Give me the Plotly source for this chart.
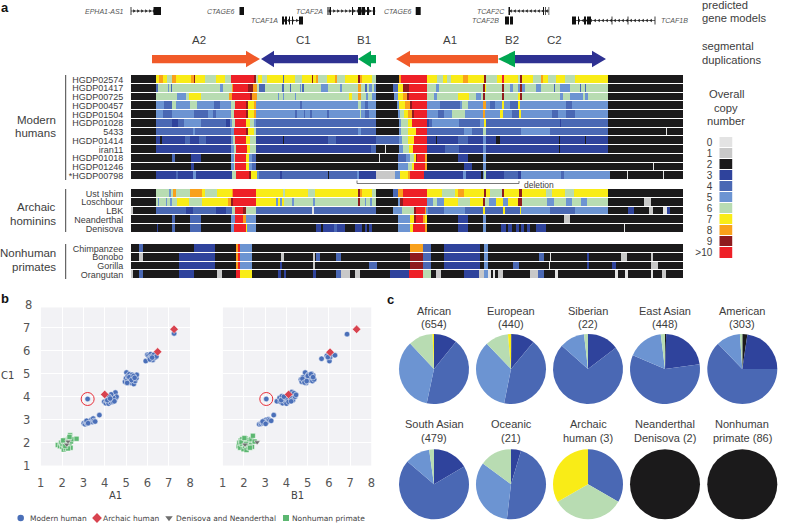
import plotly.graph_objects as go

W, H = 800, 523
SANS = "Liberation Sans"
DV = "DejaVu Sans"
TXT = "#3d3d3d"

# ---------- panel a data: (segment end, copy number) ----------
HGDP02574 = [(156,2),(159,7),(163,8),(167,7),(172,6),(176,8),(191,7),(194,8),(195,9),(205,7),(216,6),(225,7),(231,6),(254,10),(256,9),(258,6),(262,7),(267,6),(283,7),(284,4),(295,7),(302,6),(312,7),(313,9),(316,7),(318,8),(327,6),(335,7),(337,8),(345,6),(358,7),(360,9),(362,8),(372,7),(376,6),(399,2),(401,8),(427,10),(437,7),(443,6),(447,7),(451,6),(463,7),(468,8),(484,7),(486,9),(497,6),(502,7),(504,10),(518,7),(520,6),(522,9),(533,7),(541,6),(543,8),(548,7),(556,6),(565,7),(575,6),(608,7),(683,2)]
HGDP01417 = [(156,2),(158,4),(168,6),(169,5),(171,6),(172,4),(220,6),(223,5),(232,6),(233,8),(248,10),(253,9),(257,8),(259,6),(265,4),(282,6),(284,4),(290,6),(291,4),(300,6),(301,5),(302,6),(304,4),(321,6),(328,5),(340,6),(342,5),(358,6),(361,8),(365,6),(367,4),(369,6),(372,5),(374,6),(376,5),(393,2),(398,4),(403,7),(409,9),(427,10),(436,6),(439,5),(483,6),(485,9),(486,7),(502,6),(504,9),(510,6),(513,5),(518,6),(520,5),(522,9),(525,5),(536,6),(541,5),(554,6),(555,4),(560,6),(570,5),(580,6),(581,4),(585,6),(586,4),(608,6),(683,2)]
HGDP00725 = [(156,2),(177,6),(186,5),(189,6),(201,7),(229,6),(232,8),(250,10),(252,9),(257,8),(262,6),(278,6),(279,5),(283,6),(284,5),(295,6),(296,5),(349,6),(352,7),(358,6),(361,8),(366,6),(368,5),(372,6),(376,5),(394,2),(398,5),(403,7),(407,8),(409,9),(427,10),(434,6),(437,5),(458,6),(469,7),(476,6),(481,5),(483,6),(485,9),(502,6),(504,9),(518,6),(520,7),(522,9),(530,6),(560,6),(563,5),(570,6),(583,5),(585,6),(588,5),(608,6),(683,2)]
HGDP00457 = [(156,2),(164,5),(172,4),(176,6),(190,5),(197,6),(214,5),(220,4),(231,5),(235,6),(246,10),(248,9),(254,7),(256,8),(300,5),(302,4),(358,5),(361,6),(365,5),(368,4),(372,5),(376,5),(397,2),(399,5),(405,7),(410,8),(412,9),(427,10),(440,5),(460,4),(462,5),(468,6),(483,5),(486,8),(490,5),(495,4),(502,5),(504,7),(510,5),(518,4),(520,7),(566,5),(572,4),(608,5),(683,2)]
HGDP01504 = [(156,2),(163,5),(172,4),(176,5),(194,5),(208,4),(213,5),(216,4),(231,5),(234,6),(246,10),(248,9),(254,7),(256,8),(295,5),(297,4),(304,5),(305,4),(310,5),(312,4),(327,5),(329,4),(360,5),(361,6),(365,5),(369,4),(376,5),(398,2),(400,5),(404,6),(408,7),(412,8),(414,9),(427,10),(438,5),(444,4),(452,5),(465,6),(483,5),(485,8),(500,5),(503,7),(512,5),(519,4),(521,7),(552,5),(558,4),(566,5),(575,4),(608,5),(683,2)]
HGDP01028 = [(156,2),(172,4),(178,3),(184,4),(201,5),(226,4),(230,3),(232,5),(235,6),(246,10),(250,7),(254,6),(256,5),(360,4),(376,4),(399,2),(401,5),(408,6),(412,7),(414,10),(427,10),(429,3),(432,4),(459,5),(480,4),(484,5),(486,7),(500,4),(560,4),(561,3),(608,4),(683,2)]
S5433 = [(156,2),(193,4),(195,5),(231,4),(234,5),(246,10),(248,9),(254,7),(256,6),(358,4),(361,5),(376,4),(399,2),(401,5),(408,6),(416,7),(427,10),(464,4),(472,5),(483,4),(486,6),(521,4),(550,5),(608,4),(666,2),(667,0),(683,2)]
HGDP01414 = [(156,2),(160,3),(162,2),(185,3),(190,4),(199,3),(206,4),(231,3),(233,5),(235,6),(246,10),(250,7),(256,6),(283,3),(284,2),(328,3),(336,4),(376,3),(399,4),(402,5),(408,6),(414,7),(427,10),(436,3),(437,2),(458,3),(468,4),(483,3),(486,5),(496,3),(500,2),(559,3),(560,2),(585,3),(586,2),(608,3),(683,2)]
iran11 = [(156,2),(231,3),(234,5),(236,6),(247,10),(250,7),(256,6),(371,3),(376,4),(385,2),(386,0),(399,2),(403,5),(409,6),(413,7),(427,10),(445,3),(459,4),(483,3),(486,5),(559,3),(560,2),(608,3),(683,2)]
HGDP01018 = [(172,2),(175,4),(176,2),(191,2),(201,3),(231,2),(234,5),(235,6),(246,10),(249,7),(252,5),(256,4),(379,2),(380,0),(398,2),(406,4),(410,5),(414,6),(416,7),(417,9),(425,10),(427,8),(458,2),(468,3),(483,2),(486,5),(683,2)]
HGDP01246 = [(172,2),(175,2),(191,2),(194,3),(231,2),(234,5),(235,6),(246,10),(249,7),(252,5),(256,4),(398,2),(408,5),(412,6),(414,7),(425,10),(427,8),(464,2),(472,3),(483,2),(486,5),(653,2),(654,0),(683,2)]
HGDP00798 = [(156,2),(176,3),(178,4),(193,3),(196,5),(232,3),(236,6),(249,10),(251,9),(257,7),(259,5),(280,4),(282,3),(286,4),(328,4),(329,2),(357,4),(359,5),(376,3),(395,1),(400,5),(408,7),(410,8),(424,10),(463,3),(466,5),(481,3),(483,2),(484,5),(486,6),(504,3),(518,4),(521,3),(561,5),(564,4),(610,5),(627,2),(628,0),(663,2),(664,0),(683,2)]

UstIshim = [(156,2),(169,6),(171,5),(173,6),(176,8),(190,6),(202,8),(205,7),(217,6),(232,7),(233,8),(256,10),(283,7),(285,6),(308,7),(315,6),(358,7),(360,9),(362,8),(372,7),(376,6),(393,2),(398,4),(403,8),(427,10),(442,7),(455,6),(458,7),(464,8),(484,7),(486,9),(490,7),(502,6),(504,9),(519,7),(522,9),(546,7),(552,6),(565,7),(574,6),(608,7),(683,2)]
Loschbour = [(156,2),(158,6),(159,5),(166,6),(167,5),(170,6),(172,5),(177,6),(189,7),(202,6),(228,7),(231,8),(233,9),(256,10),(276,7),(278,5),(280,7),(282,5),(284,7),(292,6),(294,5),(313,6),(315,5),(358,6),(360,9),(365,6),(366,5),(370,6),(372,5),(376,6),(398,2),(400,5),(403,9),(427,10),(433,5),(437,6),(444,5),(458,7),(470,6),(483,7),(485,9),(489,6),(496,5),(503,7),(508,5),(518,7),(522,9),(547,6),(554,5),(566,6),(572,5),(581,6),(587,5),(608,6),(644,2),(651,1),(683,2)]
LBK = [(133,1),(156,2),(186,4),(193,3),(216,4),(226,3),(232,4),(235,6),(243,10),(246,9),(256,6),(306,4),(312,4),(314,0),(376,4),(393,2),(402,5),(414,6),(416,9),(425,10),(426,8),(428,5),(444,4),(465,5),(483,4),(485,7),(503,4),(505,7),(520,4),(521,7),(550,5),(575,4),(608,5),(628,2),(634,3),(649,2),(653,1),(663,2),(667,0),(670,3),(683,2)]
Neanderthal = [(172,2),(175,4),(190,2),(201,4),(231,2),(235,5),(243,10),(246,8),(256,5),(398,2),(410,5),(414,7),(416,9),(423,10),(425,8),(427,7),(458,2),(468,3),(483,2),(486,5),(564,2),(570,1),(683,2)]
Denisova = [(157,2),(158,3),(172,2),(175,4),(190,2),(201,4),(231,2),(234,5),(246,10),(247,7),(256,5),(316,2),(321,3),(323,2),(334,3),(337,4),(345,3),(355,2),(362,3),(365,2),(367,3),(369,2),(372,3),(376,2),(398,2),(410,5),(413,7),(425,10),(427,8),(458,2),(468,3),(483,2),(486,5),(501,2),(506,3),(508,2),(512,3),(516,2),(519,3),(521,2),(524,3),(527,2),(530,3),(536,2),(546,3),(624,2),(625,0),(683,2)]

Chimpanzee = [(139,2),(143,4),(194,2),(215,3),(236,2),(238,8),(240,10),(252,5),(410,2),(423,8),(431,4),(444,2),(480,3),(484,2),(488,5),(683,2)]
Bonobo = [(139,2),(143,1),(179,2),(215,3),(236,2),(238,8),(240,10),(252,5),(281,2),(284,1),(313,2),(315,1),(316,2),(320,4),(336,2),(341,4),(373,2),(410,2),(423,9),(431,4),(444,2),(480,3),(484,2),(488,5),(539,2),(544,4),(550,2),(551,0),(587,2),(589,3),(621,2),(627,1),(651,2),(653,1),(683,2)]
Gorilla = [(179,2),(215,3),(236,2),(238,8),(240,10),(252,5),(280,2),(282,3),(313,2),(315,1),(369,2),(377,4),(410,2),(423,9),(431,4),(444,2),(480,3),(484,2),(488,5),(513,2),(519,4),(549,2),(550,0),(587,2),(589,3),(612,2),(616,3),(625,2),(651,2),(658,1),(683,2)]
Orangutan = [(133,1),(139,2),(143,4),(179,2),(194,3),(217,2),(222,1),(236,2),(240,10),(252,7),(278,2),(281,3),(284,2),(286,3),(313,2),(316,3),(336,2),(341,4),(350,1),(355,2),(360,1),(390,2),(409,3),(423,10),(431,6),(436,2),(441,1),(464,2),(479,3),(484,1),(488,5),(491,0),(493,2),(495,0),(498,2),(503,1),(530,2),(538,1),(544,4),(555,2),(558,0),(615,2),(618,0),(625,2),(628,0),(651,2),(653,0),(662,2),(666,1),(683,2)]

modern_names = ["HGDP02574","HGDP01417","HGDP00725","HGDP00457","HGDP01504","HGDP01028","5433","HGDP01414","iran11","HGDP01018","HGDP01246","*HGDP00798"]
modern_rows = [HGDP02574,HGDP01417,HGDP00725,HGDP00457,HGDP01504,HGDP01028,S5433,HGDP01414,iran11,HGDP01018,HGDP01246,HGDP00798]
archaic_names = ["Ust Ishim","Loschbour","LBK","Neanderthal","Denisova"]
archaic_rows = [UstIshim,Loschbour,LBK,Neanderthal,Denisova]
primate_names = ["Chimpanzee","Bonobo","Gorilla","Orangutan"]
primate_rows = [Chimpanzee,Bonobo,Gorilla,Orangutan]

cn_colors = ["#e3e3e3","#c8c8c8","#1b1a1b","#2f439c","#4a68b4","#6c94d2","#b8dcb2","#f9ec17","#f9a11b","#8f1b1e","#ee2027"]
cn_labels = ["0","1","2","3","4","5","6","7","8","9",">10"]
cn_values = [0,1,2,3,4,5,6,7,8,9,10]
GENOME_START, GENOME_END = 131, 683

# segmental duplications: name, tail, tip, head base, colour
segdups = [("A2",152,260,246,"#f15a29"),("C1",358,261,274,"#2e3192"),("B1",376,358,371,"#00a651"),
           ("A1",498,396,410,"#f15a29"),("B2",515,498,515,"#00a651"),("C2",515,606,592,"#2e3192")]
segdup_label_x = {"A2":199,"C1":303,"B1":364,"A1":450,"B2":512,"C2":554}

# gene models: name, track y, line start, line end, direction, exons, label x, label anchor
genes = [
 ("EPHA1-AS1",11,131,161,1,[(130.6,131.4),(153.5,161)],124,"right"),
 ("CTAGE6",11,239.5,244,0,[(239.5,244)],235,"right"),
 ("TCAF1A",20.5,282,303,1,[(282,284),(285,287),(289,290),(292,293),(299,303)],278,"right"),
 ("TCAF2A",11,327.5,375,1,[(327.5,328.5),(329.5,331),(352,353),(358,361),(361.5,365),(367,369),(373,375)],323,"right"),
 ("CTAGE6",11,415.7,420.7,0,[(415.7,420.7)],411.6,"right"),
 ("TCAF2C",11,508.5,549,-1,[(508.5,510),(543,544),(545,545.7),(548.6,549.2)],504.7,"right"),
 ("TCAF2B",20.5,505,513,0,[(505,509),(510,513)],499.3,"right"),
 ("TCAF1B",20.5,572,655,-1,[(572,576),(578,579),(584,586),(587,591),(611.6,612.4),(627.6,628.4),(654.6,655.4)],661,"left"),
]

# ---------- panel b data ----------
a1_modern_x = [3.02,3.08,3.12,3.18,3.25,3.3,3.38,3.42,3.46,3.5,3.55,3.15,3.22,3.75,3.2,
 3.98,4.05,4.1,4.15,4.18,4.22,4.28,4.32,4.36,4.38,4.42,4.46,4.5,4.52,4.55,4.4,4.3,4.2,4.12,4.45,4.25,
 4.95,5.0,5.02,5.05,5.08,5.12,5.16,5.18,5.22,5.25,5.28,5.32,5.36,5.42,5.45,5.48,5.5,5.15,5.25,5.35,5.05,5.4,
 5.92,6.0,6.05,6.1,6.15,6.2,6.25,6.3,6.36,6.42,6.12,6.22,7.25]
a1_modern_y = [2.85,2.8,2.9,2.83,2.88,2.92,3.0,2.9,3.05,2.95,2.92,2.95,2.85,3.2,3.9,
 3.78,3.72,3.82,3.78,3.7,3.88,3.76,3.86,4.0,3.78,4.1,3.85,4.18,3.95,4.0,3.95,4.1,4.0,3.85,3.8,3.92,
 4.65,4.8,5.05,4.7,4.9,4.62,4.98,4.75,4.85,4.6,4.95,4.72,4.55,4.68,4.92,4.8,4.95,4.85,4.72,4.9,4.6,4.82,
 5.55,5.82,5.78,5.68,5.85,5.75,5.6,5.82,5.7,5.75,5.62,5.7,6.75]
a1_archaic_x = [4.0,6.48,7.25]
a1_archaic_y = [4.1,5.95,6.93]
a1_denis_x = [2.28,2.22]
a1_denis_y = [2.05,1.92]
a1_prim_x = [1.8,1.9,1.95,2.0,2.02,2.08,2.1,2.12,2.15,2.18,2.2,2.25,2.3,2.32,2.35,2.38,2.42,2.4,2.45,2.68,2.05,2.28,2.35,2.15]
a1_prim_y = [1.9,1.85,2.0,1.82,1.95,1.7,2.05,1.9,2.12,1.75,1.98,2.12,1.85,2.18,1.95,2.32,2.05,1.78,2.15,2.17,2.1,1.75,2.25,1.85]

b1_modern_x = [2.72,2.8,2.85,2.9,2.95,3.0,3.05,3.1,3.15,3.2,3.28,2.88,3.02,3.4,3.05,
 3.55,3.68,3.72,3.78,3.82,3.85,3.9,3.95,4.0,4.05,4.1,4.15,4.2,4.25,4.3,4.35,4.4,4.45,3.75,3.88,4.22,
 4.68,4.72,4.78,4.82,4.88,4.92,4.98,5.02,5.08,5.12,5.18,5.22,5.26,5.3,4.75,4.85,5.0,5.15,4.95,5.25,
 5.65,5.9,6.02,6.05,6.1,5.95,6.28,6.85]
b1_modern_y = [2.8,2.82,2.88,2.85,2.95,2.9,3.0,2.92,3.02,2.98,2.95,2.92,2.82,3.2,3.9,
 3.8,3.95,3.78,4.02,3.72,3.88,3.82,3.95,3.7,3.9,3.78,4.1,3.95,4.2,3.85,4.15,4.0,4.08,3.85,4.0,3.8,
 4.75,4.65,4.85,4.7,5.05,4.6,4.8,4.95,4.72,4.88,5.0,4.68,4.92,4.75,4.78,4.62,4.9,4.98,4.68,4.85,
 5.65,5.78,5.55,5.72,5.85,5.72,5.8,6.72]
b1_archaic_x = [4.1,6.05,7.3]
b1_archaic_y = [4.1,5.93,6.93]
b1_denis_x = [2.05,2.62]
b1_denis_y = [1.92,2.02]
b1_prim_x = [1.75,1.78,1.82,1.85,1.9,1.92,1.98,2.0,2.05,2.08,2.12,2.15,2.18,2.22,2.25,2.3,2.35,2.38,2.42,2.5,1.88,2.1,2.28,2.02]
b1_prim_y = [1.85,2.0,1.78,2.1,1.95,2.15,1.72,2.05,1.85,2.18,1.68,2.0,2.12,1.8,2.05,1.9,2.15,1.82,2.3,2.05,2.02,1.95,1.78,2.2]

# ---------- panel c data: shares clockwise from 12 o'clock, degrees ----------
pie_cn = [2,3,4,5,6,7]
pie_titles = [["African","(654)"],["European","(440)"],["Siberian","(22)"],["East Asian","(448)"],["American","(303)"],
              ["South Asian","(479)"],["Oceanic","(21)"],["Archaic","human (3)"],["Neanderthal","Denisova (2)"],["Nonhuman","primate (86)"]]
African = [0,39,153,125,40.5,2.5]
European = [0.8,39,151.5,125,38.7,5]
Siberian = [0,52.6,259,41.8,6.6,0]
EastAsian = [2,80,211,60,7,0]
American = [8.4,81.6,226,40,4,0]
SouthAsian = [0,59.5,251,41.5,8,0]
Oceanic = [0,16.7,170,119.8,53.5,0]
Archaic = [0,0,120,0,120,120]
NeanderthalDenisova = [1,0,0,0,0,0]
Nonhuman = [1,0,0,0,0,0]
pie_values = [African,European,Siberian,EastAsian,American,SouthAsian,Oceanic,Archaic,NeanderthalDenisova,Nonhuman]
pie_cx = [434,511,588,665,742.3]
pie_cy = [369,484.3]
PIE_R = 35

# ---------- figure ----------
def dx(a, b): return [a / W, b / W]
def dy(top, bottom): return [1 - bottom / H, 1 - top / H]

fig = go.Figure()
step = []
for i, c in enumerate(cn_colors):
    step += [[i / 11, c], [(i + 1) / 11, c]]

def expand(row):
    out, pos = [], GENOME_START
    for end, cn in row:
        while pos < end and pos < GENOME_END:
            out.append(cn); pos += 1
    while pos < GENOME_END:
        out.append(row[-1][1]); pos += 1
    return out

bins = list(range(GENOME_START, GENOME_END))
layout = dict(template="none", width=W, height=H, autosize=False, margin=dict(l=0, r=0, t=0, b=0, pad=0),
              paper_bgcolor="white", plot_bgcolor="rgba(0,0,0,0)", showlegend=False)

groups = [(modern_names, modern_rows, 75, 180.2), (archaic_names, archaic_rows, 189, 232.8), (primate_names, primate_rows, 244, 279.3)]
for k, (names, rows, top, bot) in enumerate(groups, start=1):
    sfx = "" if k == 1 else str(k)
    fig.add_trace(go.Heatmap(z=[[c + 0.5 for c in expand(r)] for r in rows], x=[b + 0.5 for b in bins], y=list(range(len(rows))),
                             colorscale=step, zmin=0, zmax=11, showscale=False, ygap=1, hoverinfo="skip",
                             xaxis="x" + sfx, yaxis="y" + sfx))
    layout["xaxis" + sfx] = dict(domain=dx(GENOME_START, GENOME_END), range=[GENOME_START, GENOME_END], visible=False, anchor="y" + sfx)
    layout["yaxis" + sfx] = dict(domain=dy(top, bot), range=[len(rows) - 0.5, -0.5], anchor="x" + sfx, showgrid=False, zeroline=False,
                                 showline=False, tickmode="array", tickvals=list(range(len(rows))), ticktext=names, ticks="outside",
                                 ticklen=5, tickcolor="rgba(0,0,0,0)", tickfont=dict(family=SANS, size=9, color=TXT))

# overlay in page units for the annotation furniture
layout["xaxis4"] = dict(domain=[0, 1], range=[0, W], visible=False, anchor="y4", fixedrange=True)
layout["yaxis4"] = dict(domain=[0, 1], range=[H, 0], visible=False, anchor="x4", fixedrange=True)

def over(xs, ys, **kw):
    fig.add_trace(go.Scatter(x=xs, y=ys, xaxis="x4", yaxis="y4", hoverinfo="skip", **kw))

def label(x, y, t, size=9.5, anchor="left", family=SANS, color=TXT, **kw):
    fig.add_annotation(x=x, y=y, xref="x4", yref="y4", text=t, showarrow=False, xanchor=anchor, yanchor="middle",
                       font=dict(family=family, size=size, color=color), borderpad=0, borderwidth=0, **kw)

# group brackets and labels
for top, bot in [(75, 180), (189, 232), (244, 279)]:
    over([65.7, 65.7], [top, bot], mode="lines", line=dict(color="#444", width=1))
for t, x, y in [("Modern",56,120),("humans",56,133),("Archaic",56,207),("hominins",56,220.7),("Nonhuman",56,253),("primates",56,267)]:
    label(x, y, t, size=11.5, anchor="right")

# deletion bracket
over([357, 357, 519, 519], [180.5, 183.5, 183.5, 181], mode="lines", line=dict(color="#555", width=0.8))
label(524, 184.7, "deletion", size=8.5)

# segmental duplications
for name, tail, tip, base, col in segdups:
    if tail == base:
        xs = [tip, base, base, tip]
        ys = [59, 50.7, 67.3, 59]
    else:
        xs = [tail, base, base, tip, base, base, tail, tail]
        ys = [55, 55, 50.7, 59, 67.3, 63.3, 63.3, 55]
    over(xs, ys, mode="lines", fill="toself", fillcolor=col, line=dict(width=0, color=col))
    label(segdup_label_x[name], 40, name, size=11.5, anchor="center")

# gene models
for name, y, x0, x1, d, exons, lx, anch in genes:
    if d:
        over([x0, x1], [y, y], mode="lines", line=dict(color="#222", width=0.7))
        pts = list(range(int(min(x0, x1)) + 3, int(max(x0, x1)), 4))
        over(pts, [y] * len(pts), mode="markers",
             marker=dict(symbol="triangle-right" if d > 0 else "triangle-left", size=3.2, color="#222"))
    for a, b in exons:
        over([a, b, b, a, a], [y - 4, y - 4, y + 4, y + 4, y - 4], mode="lines", fill="toself", fillcolor="#111", line=dict(width=0, color="#111"))
    label(lx, y, "<i>%s</i>" % name, size=7, anchor=anch, color="#555")

# right column
for t, y in [("predicted",4.5),("gene models",18),("segmental",46),("duplications",60)]:
    label(702, y, t, size=11.2)
for t, y in [("Overall",94),("copy",108),("number",121)]:
    label(726, y, t, size=11.2, anchor="center")

# copy number legend
fig.add_trace(go.Heatmap(z=[[c + 0.5] for c in cn_values], y=cn_labels, x=[0], colorscale=step, zmin=0, zmax=11, showscale=False,
                         ygap=1, xaxis="x5", yaxis="y5", hoverinfo="skip"))
layout["xaxis5"] = dict(domain=dx(719.3, 732.7), visible=False, anchor="y5")
layout["yaxis5"] = dict(domain=dy(137, 258.5), anchor="x5", autorange="reversed", type="category", showgrid=False, zeroline=False, showline=False,
                        tickmode="array", tickvals=cn_labels, ticktext=cn_labels,
                        ticks="outside", ticklen=4, tickcolor="rgba(0,0,0,0)", tickfont=dict(family=SANS, size=10, color=TXT))

# panel letters
for t, x, y in [("a",1,7),("b",1,298),("c",387,299)]:
    label(x, y, "<b>%s</b>" % t, size=13, color="#111")

# panel b
panels = [
 ("6", 40.7, 190.1, a1_modern_x, a1_modern_y, a1_archaic_x, a1_archaic_y, a1_denis_x, a1_denis_y, a1_prim_x, a1_prim_y, 3.2, "A1", True),
 ("7", 222.7, 371.5, b1_modern_x, b1_modern_y, b1_archaic_x, b1_archaic_y, b1_denis_x, b1_denis_y, b1_prim_x, b1_prim_y, 3.05, "B1", False),
]
Y_TOP = 1 + (465.7 - 307.3) / 23
styles = [("circle", "#4a6fb8", 5.5), ("diamond", "#d8434f", 6.5), ("triangle-down", "#6e6e6e", 5.5), ("square", "#5cb771", 5)]
for n, l, r, mx, my, ax_, ay, dx_, dy_, px, py, cx, name, show_y in panels:
    for (sym, col, sz), (xs, ys) in zip([styles[0], styles[3], styles[2], styles[1]], [(mx, my), (px, py), (dx_, dy_), (ax_, ay)]):
        fig.add_trace(go.Scatter(x=xs, y=ys, mode="markers", xaxis="x" + n, yaxis="y" + n, hoverinfo="skip",
                                 marker=dict(symbol=sym, color=col, size=sz, line=dict(color="white", width=0.5))))
    fig.add_trace(go.Scatter(x=[cx], y=[3.9], mode="markers", xaxis="x" + n, yaxis="y" + n, hoverinfo="skip",
                             marker=dict(symbol="circle-open", color="#e8303a", size=13, line=dict(color="#e8303a", width=1))))
    layout["xaxis" + n] = dict(domain=dx(l, r), range=[1, 8], anchor="y" + n, tickvals=list(range(1, 9)), showgrid=True, gridcolor="white", gridwidth=1,
                               zeroline=False, showline=False, ticks="outside", ticklen=6, tickcolor="rgba(0,0,0,0)",
                               tickfont=dict(family=DV, size=11.5, color="#555"))
    layout["yaxis" + n] = dict(domain=dy(307.3, 465.7), range=[1, Y_TOP], anchor="x" + n, tickvals=list(range(1, 9)), showgrid=True, gridcolor="white", gridwidth=1,
                               zeroline=False, showline=False, showticklabels=show_y, ticks="outside" if show_y else "", ticklen=7,
                               tickcolor="rgba(0,0,0,0)", tickfont=dict(family=DV, size=11.5, color="#555"))
    fig.add_shape(type="rect", xref="x" + n, yref="y" + n, x0=1, x1=8, y0=1, y1=Y_TOP, layer="below", fillcolor="#f2f2f5", line=dict(width=0))
    label((l + r) / 2, 495.7, name, size=10, anchor="center", family=DV, color="#444")
label(7, 375.7, "C1", size=10, anchor="center", family=DV, color="#444")
label(31.7, 305, "8", size=11.5, anchor="right", family=DV, color="#555")

# legend of panel b
for (sym, col, sz), mxp, tx, t in [(styles[0],20.7,30,"Modern human"),(styles[1],97,103,"Archaic human"),
                                   (styles[2],169,175.7,"Denisova and Neanderthal"),(styles[3],286,292,"Nonhuman primate")]:
    over([mxp], [518], mode="markers", marker=dict(symbol=sym, color=col, size=sz + 1))
    label(tx, 518, t, size=7.5, family=DV, color="#444")

# panel c
for i, (vals, title) in enumerate(zip(pie_values, pie_titles)):
    cx = pie_cx[i % 5]; cy = pie_cy[i // 5]
    fig.add_trace(go.Pie(values=vals, sort=False, direction="clockwise", rotation=0, textinfo="none", hoverinfo="skip",
                         marker=dict(colors=[cn_colors[c] for c in pie_cn], line=dict(width=0)), showlegend=False,
                         domain=dict(x=dx(cx - PIE_R, cx + PIE_R), y=dy(cy - PIE_R, cy + PIE_R))))
    ty = 310.7 if i < 5 else 424.4
    label(cx, ty, title[0], size=11, anchor="center")
    label(cx, ty + 13.5, title[1], size=11, anchor="center")

fig.update_layout(**layout)
fig.write_html("out.html", post_script="document.body.style.margin='0';", config=dict(displayModeBar=False))
